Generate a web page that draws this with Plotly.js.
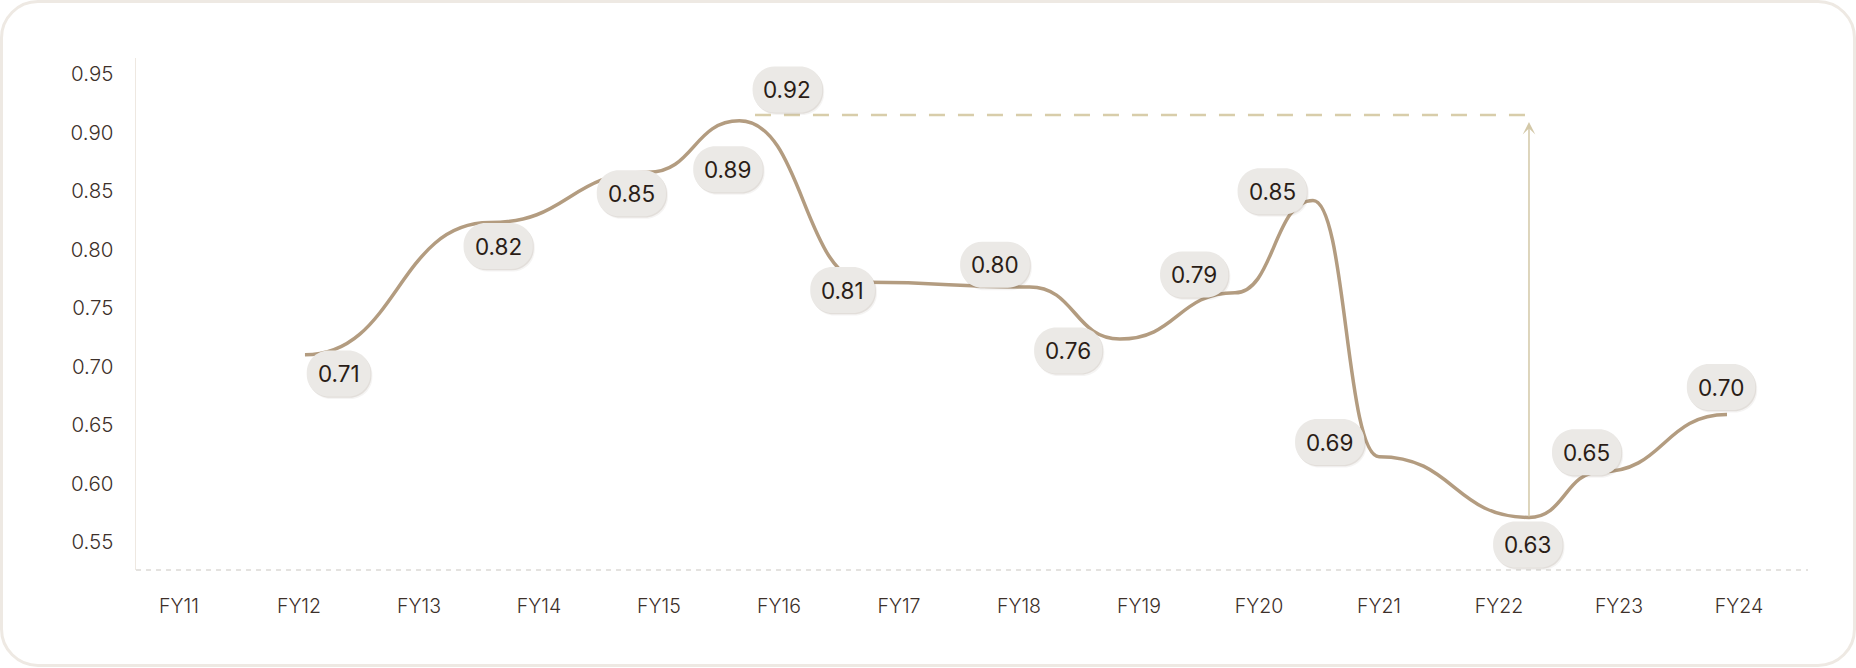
<!DOCTYPE html>
<html>
<head>
<meta charset="utf-8">
<script src="https://cdn.plot.ly/plotly-3.0.1.min.js"></script>
<style>
  html, body { margin: 0; padding: 0; background: #ffffff; width: 1856px; height: 668px; overflow: hidden; }
  #card { position: absolute; left: 0; top: 0; width: 1856px; height: 667px; box-sizing: border-box;
          border: 3px solid #eee9e3; border-radius: 38px; background: #ffffff; }
  #chart { position: absolute; left: 0; top: 0; width: 1856px; height: 668px; }
</style>
</head>
<body>
<div id="card"></div>
<div id="chart"></div>
<script>
// ---------- data ----------
const fiscalYears = ['FY11','FY12','FY13','FY14','FY15','FY16','FY17','FY18','FY19','FY20','FY21','FY22','FY23','FY24'];
const yTickValues = [0.55, 0.60, 0.65, 0.70, 0.75, 0.80, 0.85, 0.90, 0.95];

// curve knots (x in fiscal-year index units, y in ratio units)
const curveX = [1.05, 2.59, 3.91, 4.67, 5.74, 7.09, 7.84, 8.80, 9.45, 10.00, 11.25, 11.85, 12.90];
const curveY = [0.710, 0.823, 0.866, 0.910, 0.772, 0.768, 0.7235, 0.763, 0.842, 0.623, 0.571, 0.610, 0.659];

// value badges
const labelText = ['0.71','0.82','0.85','0.89','0.81','0.80','0.76','0.79','0.85','0.69','0.63','0.65','0.70'];
const labelX = [1.33, 2.66, 3.77, 4.575, 5.53, 6.80, 7.41, 8.46, 9.11, 9.59, 11.24, 11.73, 12.85];
const labelY = [0.694, 0.803, 0.848, 0.8686, 0.7654, 0.787, 0.7138, 0.7786, 0.8498, 0.6354, 0.5479, 0.6268, 0.6825];

// peak reference line + badge
const peakText = '0.92';
const peakLabelX = 5.07;
const peakLabelY = 0.9368;
const peakRefValue = 0.915;
const peakRefStart = 4.80;
const peakRefEnd = 11.28;
const arrowTopValue = 0.909;
const arrowIndex = 10; // the FY22 trough knot

// ---------- styles ----------
const FONT = 'Inter, "Noto Sans", sans-serif';
const LINE_COLOR = '#b39c80';
const BADGE_FILL = '#ebe9e6';
const BADGE_TEXT = '#2a1d17';
const TICK_TEXT = '#3d302a';
const REF_COLOR = '#d8cdaa';
const ARROW_COLOR = '#d3c8a8';
const BADGE_FONT_SIZE = 22.5;
const BADGE_H = 46, BADGE_R = 22, BADGE_PAD = 11;

// measure text for badge width
const cv = document.createElement('canvas').getContext('2d');
cv.font = '400 ' + BADGE_FONT_SIZE + 'px Inter';
function textW(t) { return cv.measureText(t).width; }

function roundRectPath(w, h, r, dx, dy) {
  const hw = w / 2, hh = h / 2, k = 0.5523 * r;
  const X = v => (v + dx).toFixed(2), Y = v => (v + dy).toFixed(2);
  return 'M' + X(-hw + r) + ',' + Y(hh) +
    ' L' + X(hw - r) + ',' + Y(hh) +
    ' C' + X(hw - r + k) + ',' + Y(hh) + ' ' + X(hw) + ',' + Y(hh - r + k) + ' ' + X(hw) + ',' + Y(hh - r) +
    ' L' + X(hw) + ',' + Y(-hh + r) +
    ' C' + X(hw) + ',' + Y(-hh + r - k) + ' ' + X(hw - r + k) + ',' + Y(-hh) + ' ' + X(hw - r) + ',' + Y(-hh) +
    ' L' + X(-hw + r) + ',' + Y(-hh) +
    ' C' + X(-hw + r - k) + ',' + Y(-hh) + ' ' + X(-hw) + ',' + Y(-hh + r - k) + ' ' + X(-hw) + ',' + Y(-hh + r) +
    ' L' + X(-hw) + ',' + Y(hh - r) +
    ' C' + X(-hw) + ',' + Y(hh - r + k) + ' ' + X(-hw + r - k) + ',' + Y(hh) + ' ' + X(-hw + r) + ',' + Y(hh) + ' Z';
}

function badgeShapes(x, y, text) {
  const w = textW(text) + 2 * BADGE_PAD;
  const base = { type: 'path', xref: 'x', yref: 'y', xsizemode: 'pixel', ysizemode: 'pixel',
                 xanchor: x, yanchor: y, layer: 'above', line: { width: 0 } };
  return [
    Object.assign({}, base, { path: roundRectPath(w, BADGE_H, BADGE_R, 2, -2.5), fillcolor: 'rgba(120,100,80,0.07)' }),
    Object.assign({}, base, { path: roundRectPath(w, BADGE_H, BADGE_R, 1, -1.2), fillcolor: 'rgba(120,100,80,0.15)' }),
    Object.assign({}, base, { path: roundRectPath(w, BADGE_H, BADGE_R, 0, 0), fillcolor: BADGE_FILL })
  ];
}

// bump-style curve through the knots, drawn on the data axes
let curvePath = 'M' + curveX[0] + ',' + curveY[0];
for (let i = 1; i < curveX.length; i++) {
  const xm = (curveX[i - 1] + curveX[i]) / 2;
  curvePath += ' C' + xm + ',' + curveY[i - 1] + ' ' + xm + ',' + curveY[i] + ' ' + curveX[i] + ',' + curveY[i];
}

const shapes = [
  // dashed baseline
  { type: 'line', xref: 'paper', yref: 'paper', x0: 0, x1: 1, y0: 0, y1: 0,
    line: { color: '#dcd9d5', width: 1.5, dash: '5px,5px' }, layer: 'below' },
  // peak reference dashed line
  { type: 'line', xref: 'x', yref: 'y', x0: peakRefStart, x1: peakRefEnd, y0: peakRefValue, y1: peakRefValue,
    line: { color: REF_COLOR, width: 2.5, dash: '16px,13px' }, layer: 'above' },
  // the series curve
  { type: 'path', xref: 'x', yref: 'y', path: curvePath, fillcolor: 'rgba(0,0,0,0)',
    line: { color: LINE_COLOR, width: 3.5 }, layer: 'above' }
];
for (let i = 0; i < labelText.length; i++) shapes.push(...badgeShapes(labelX[i], labelY[i], labelText[i]));
shapes.push(...badgeShapes(peakLabelX, peakLabelY, peakText));

const annotations = labelText.map((t, i) => ({
  x: labelX[i], y: labelY[i], xref: 'x', yref: 'y', text: t, showarrow: false,
  xanchor: 'center', yanchor: 'middle',
  font: { family: FONT, size: BADGE_FONT_SIZE, color: BADGE_TEXT, weight: 400 }
}));
annotations.push({
  x: peakLabelX, y: peakLabelY, xref: 'x', yref: 'y', text: peakText, showarrow: false,
  xanchor: 'center', yanchor: 'middle',
  font: { family: FONT, size: BADGE_FONT_SIZE, color: BADGE_TEXT, weight: 400 }
});
annotations.push({
  x: curveX[arrowIndex], y: arrowTopValue, xref: 'x', yref: 'y',
  ax: curveX[arrowIndex], ay: curveY[arrowIndex], axref: 'x', ayref: 'y',
  text: ' ', font: { size: 1 }, borderpad: 0,
  showarrow: true, arrowhead: 3, arrowsize: 1.4, arrowwidth: 1.5,
  arrowcolor: ARROW_COLOR, standoff: 0, startstandoff: 0
});

const traces = [{
  type: 'scatter', mode: 'markers', x: curveX, y: curveY,
  marker: { size: 6, color: LINE_COLOR, opacity: 0 }, hoverinfo: 'y', showlegend: false
}];

const layout = {
  width: 1856, height: 668,
  margin: { l: 136, r: 48, t: 58, b: 98, pad: 0 },
  paper_bgcolor: 'rgba(0,0,0,0)', plot_bgcolor: 'rgba(0,0,0,0)',
  font: { family: FONT },
  showlegend: false,
  xaxis: {
    range: [-0.358, 13.575], tickmode: 'array',
    tickvals: fiscalYears.map((_, i) => i), ticktext: fiscalYears,
    showgrid: false, zeroline: false, showline: false, ticks: '',
    tickfont: { family: FONT, size: 19.5, color: TICK_TEXT, weight: 300 },
    ticklabelstandoff: 22, fixedrange: true
  },
  yaxis: {
    range: [0.5261, 0.9637], tickmode: 'array',
    tickvals: yTickValues, ticktext: yTickValues.map(v => v.toFixed(2)),
    showgrid: false, zeroline: false, showline: true, linecolor: '#eee8e1', linewidth: 1.5, ticks: '',
    tickfont: { family: FONT, size: 20.5, color: TICK_TEXT, weight: 300 },
    ticklabelstandoff: 17, fixedrange: true
  },
  shapes: shapes,
  annotations: annotations
};

Plotly.newPlot('chart', traces, layout, { displayModeBar: false, staticPlot: true });
</script>
</body>
</html>
